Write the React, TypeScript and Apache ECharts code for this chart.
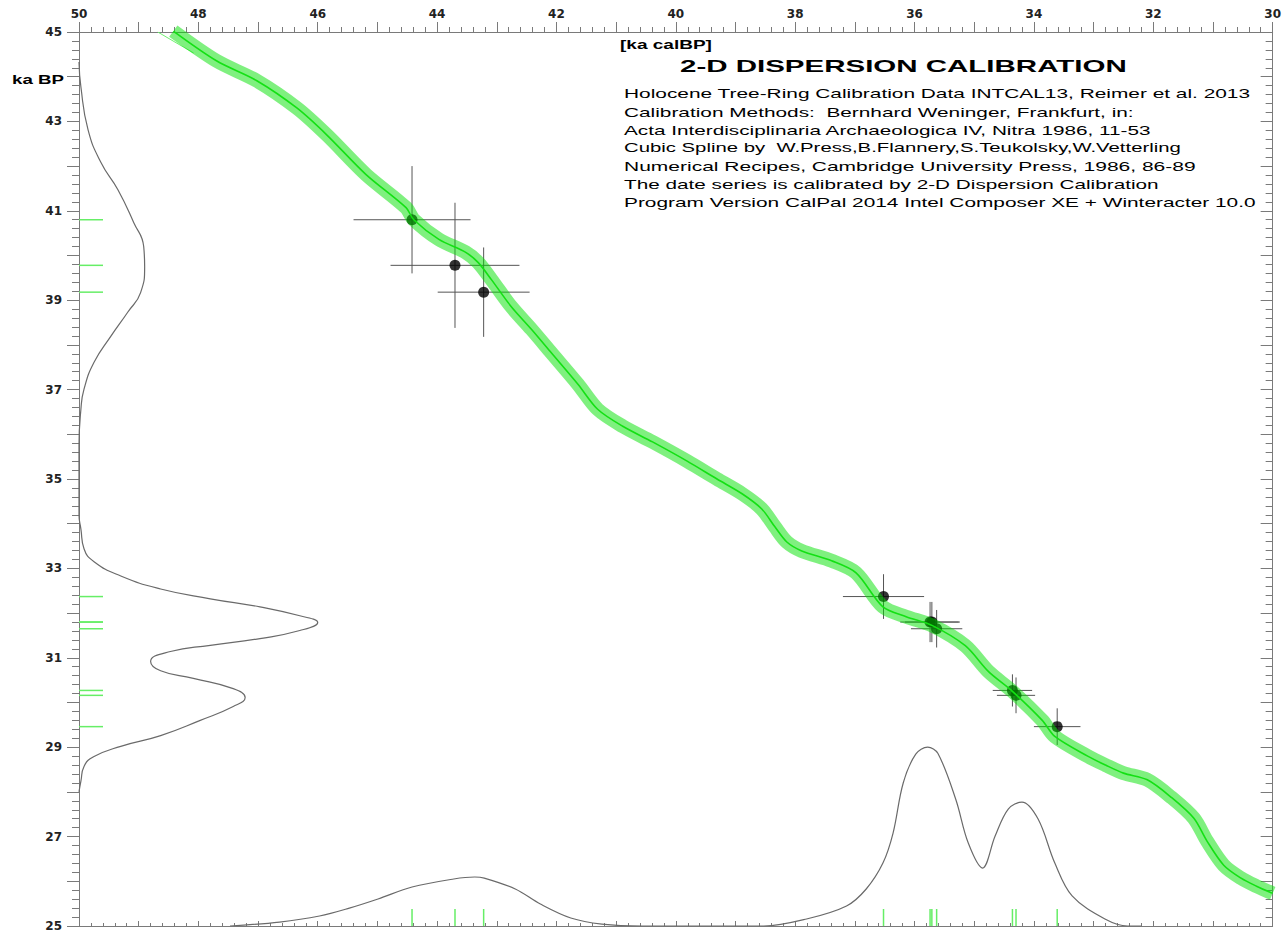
import React, { useEffect, useRef } from "react";
import * as echarts from "echarts";

// ---- calibration curve (cal ka BP -> 14C ka BP) ----
const curveCal = [48.42, 47.69, 47.02, 46.35, 45.85, 45.19, 44.52, 44.39, 43.97, 43.52, 43.31, 43.09, 42.76, 42.42, 42.09, 41.64, 41.31, 40.89, 40.39, 39.81, 39.31, 38.89, 38.56, 38.34, 38.14, 37.89, 37.39, 36.98, 36.53, 36.14, 35.70, 35.15, 34.76, 34.36, 33.86, 33.65, 33.10, 32.8, 32.5, 32.1, 31.7, 31.32, 31.10, 30.82, 30.53, 30.27, 30.0];
const curveC14 = [45.02, 44.35, 43.91, 43.30, 42.70, 41.81, 41.07, 40.80, 40.36, 40.07, 39.84, 39.46, 38.86, 38.35, 37.83, 37.12, 36.56, 36.18, 35.83, 35.40, 35.00, 34.67, 34.33, 33.93, 33.59, 33.39, 33.17, 32.90, 32.14, 31.92, 31.72, 31.27, 30.69, 30.25, 29.60, 29.24, 28.80, 28.60, 28.42, 28.27, 27.88, 27.41, 26.90, 26.36, 26.07, 25.89, 25.73];
const edgeCal = [48.68, 48.08];
const edgeC14 = [45.0, 44.53];

// ---- dated samples ----
const dateCal = [44.42, 43.70, 43.22, 36.52, 35.74, 35.71, 35.63, 34.36, 34.30, 33.61];
const dateCalErr = [0.98, 1.08, 0.77, 0.68, 0.50, 0.45, 0.43, 0.33, 0.32, 0.39];
const dateC14 = [40.80, 39.78, 39.18, 32.37, 31.80, 31.80, 31.65, 30.27, 30.16, 29.46];
const dateC14Err = [1.2, 1.4, 1.0, 0.5, 0.45, 0.45, 0.42, 0.36, 0.40, 0.41];

// ---- 14C probability distribution (left) ----
const leftDistC14 = [44.33, 43.77, 42.81, 42.08, 41.47, 40.74, 40.20, 39.75, 39.17, 38.73, 38.19, 37.61, 37.01, 36.56, 35.74, 34.2, 33.88, 33.44, 33.15, 32.83, 32.54, 32.32, 32.14, 31.94, 31.79, 31.61, 31.43, 31.28, 31.14, 30.92, 30.71, 30.54, 30.31, 30.11, 29.91, 29.60, 29.26, 29.02, 28.79, 28.57, 28.24, 28.0];
const leftDistProb = [0, 0.008, 0.038, 0.092, 0.163, 0.229, 0.271, 0.275, 0.258, 0.204, 0.133, 0.063, 0.021, 0.008, 0, 0, 0.008, 0.021, 0.063, 0.175, 0.342, 0.55, 0.758, 0.925, 1.0, 0.925, 0.758, 0.55, 0.383, 0.30, 0.342, 0.479, 0.646, 0.696, 0.646, 0.508, 0.342, 0.175, 0.063, 0.021, 0.008, 0];

// ---- calendar probability distribution (bottom) ----
const bottomCal = [47.47, 46.64, 45.97, 45.47, 44.99, 44.42, 43.72, 43.37, 43.21, 42.69, 42.27, 41.76, 41.24, 40.56, 38.53, 37.81, 37.14, 36.81, 36.53, 36.36, 36.19, 35.98, 35.78, 35.61, 35.31, 35.10, 34.86, 34.65, 34.43, 34.20, 33.93, 33.65, 33.36, 32.81, 32.43, 32.2];
const bottomProb = [0, 0.022, 0.056, 0.10, 0.151, 0.218, 0.263, 0.274, 0.268, 0.207, 0.123, 0.045, 0.011, 0, 0, 0.039, 0.112, 0.207, 0.352, 0.52, 0.80, 0.961, 1.0, 0.966, 0.709, 0.464, 0.324, 0.503, 0.654, 0.693, 0.598, 0.352, 0.168, 0.039, 0, 0];

// ---- texts ----
const titleText = "2-D DISPERSION CALIBRATION";
const xAxisName = "[ka calBP]";
const yAxisName = "ka BP";
const infoLines = [
  "Holocene Tree-Ring Calibration Data INTCAL13, Reimer et al. 2013",
  "Calibration Methods:  Bernhard Weninger, Frankfurt, in:",
  "Acta Interdisciplinaria Archaeologica IV, Nitra 1986, 11-53",
  "Cubic Spline by  W.Press,B.Flannery,S.Teukolsky,W.Vetterling",
  "Numerical Recipes, Cambridge University Press, 1986, 86-89",
  "The date series is calibrated by 2-D Dispersion Calibration",
  "Program Version CalPal 2014 Intel Composer XE + Winteracter 10.0",
];
const infoRight = [1251, 1134, 1152, 1181, 1196, 1159, 1256];

const AXIS = "#7a7a7a";
const LABEL_FONT = "DejaVu Sans";

let mctx: CanvasRenderingContext2D | null = null;
function fitScale(text: string, font: string, target: number) {
  try {
    if (!mctx) mctx = document.createElement("canvas").getContext("2d");
    if (!mctx) return 1;
    mctx.font = font;
    const w = mctx.measureText(text).width;
    return w > 0 ? target / w : 1;
  } catch (e) {
    return 1;
  }
}

function scaledText(text: string, x: number, y: number, size: number, weight: string, target: number) {
  const family = "Liberation Sans";
  const s = fitScale(text, `${weight} ${size}px "${family}"`, target);
  return {
    type: "text",
    x,
    y,
    scaleX: s,
    z: 20,
    silent: true,
    style: {
      text,
      fontSize: size,
      fontFamily: family,
      fontWeight: weight,
      fill: "#000",
      textVerticalAlign: "middle",
      verticalAlign: "middle",
    },
  };
}

function buildOption() {
  const frameAxisCommon = {
    type: "value",
    interval: 1,
    axisLine: { show: true, onZero: false, lineStyle: { color: AXIS, width: 1 } },
    splitLine: { show: false },
  };
  const labelStyle = { color: "#222", fontWeight: "bold", fontSize: 12, fontFamily: LABEL_FONT };

  const graphics: any[] = [];
  graphics.push(scaledText(xAxisName, 620, 45, 12, "bold", 92));
  graphics.push(scaledText(yAxisName, 12, 80, 12, "bold", 52));
  graphics.push(scaledText(titleText, 680, 67, 16, "bold", 447));
  infoLines.forEach((t, i) => {
    graphics.push(scaledText(t, 624, 94 + i * 18.05, 13, "normal", infoRight[i] - 624));
  });

  return {
    animation: false,
    backgroundColor: "#ffffff",
    grid: { left: 79, right: 5, top: 32, bottom: 4, containLabel: false },
    xAxis: [
      {
        ...frameAxisCommon,
        position: "top",
        inverse: true,
        min: 30,
        max: 50,
        axisTick: { show: true, inside: false, length: 10, lineStyle: { color: AXIS } },
        minorTick: { show: true, splitNumber: 5, length: 5, lineStyle: { color: AXIS } },
        axisLabel: {
          ...labelStyle,
          margin: 12,
          formatter: (v: number) => (Math.round(v) % 2 === 0 ? String(Math.round(v)) : ""),
        },
      },
      { type: "value", min: 0, max: 5, show: false, axisLine: { onZero: false } },
      {
        ...frameAxisCommon,
        position: "bottom",
        inverse: true,
        min: 30,
        max: 50,
        axisTick: { show: true, inside: true, length: 5, lineStyle: { color: AXIS } },
        minorTick: { show: true, splitNumber: 5, length: 3, lineStyle: { color: AXIS } },
        axisLabel: { show: false },
      },
    ],
    yAxis: [
      {
        ...frameAxisCommon,
        position: "left",
        min: 25,
        max: 45,
        axisTick: { show: true, inside: false, length: 12, lineStyle: { color: AXIS } },
        minorTick: { show: true, splitNumber: 5, length: 7, lineStyle: { color: AXIS } },
        axisLabel: {
          ...labelStyle,
          margin: 17,
          formatter: (v: number) => (Math.abs(Math.round(v) % 2) === 1 ? String(Math.round(v)) : ""),
        },
      },
      { type: "value", min: 0, max: 5, show: false, axisLine: { onZero: false } },
      {
        ...frameAxisCommon,
        position: "right",
        min: 25,
        max: 45,
        axisTick: { show: true, inside: true, length: 12, lineStyle: { color: AXIS } },
        minorTick: { show: true, splitNumber: 5, length: 7, lineStyle: { color: AXIS } },
        axisLabel: { show: false },
      },
    ],
    graphic: graphics,
    series: [
      {
        name: "14C distribution",
        type: "line",
        xAxisIndex: 1,
        yAxisIndex: 0,
        data: leftDistProb.map((p, i) => [p, leftDistC14[i]]),
        smooth: 0.5,
        symbol: "none",
        lineStyle: { color: "#6a6a6a", width: 1.2 },
        z: 2,
        silent: true,
      },
      {
        name: "cal distribution",
        type: "line",
        xAxisIndex: 0,
        yAxisIndex: 1,
        data: bottomCal.map((c, i) => [c, bottomProb[i]]),
        smooth: 0.35,
        symbol: "none",
        lineStyle: { color: "#6a6a6a", width: 1.2 },
        z: 2,
        silent: true,
      },
      {
        name: "error crosses",
        type: "custom",
        xAxisIndex: 0,
        yAxisIndex: 0,
        data: dateCal.map((c, i) => [c, dateCalErr[i], dateC14[i], dateC14Err[i]]),
        encode: { x: 0, y: 2 },
        renderItem: (params: any, api: any) => {
          const c = api.value(0);
          const ce = api.value(1);
          const y = api.value(2);
          const ye = api.value(3);
          const l = api.coord([c - ce, y]);
          const r = api.coord([c + ce, y]);
          const t = api.coord([c, y + ye]);
          const b = api.coord([c, y - ye]);
          return {
            type: "group",
            children: [
              { type: "line", shape: { x1: l[0], y1: l[1], x2: r[0], y2: r[1] }, style: { stroke: "#555", lineWidth: 1 } },
              { type: "line", shape: { x1: t[0], y1: t[1], x2: b[0], y2: b[1] }, style: { stroke: "#555", lineWidth: 1 } },
            ],
          };
        },
        z: 2,
        silent: true,
      },
      {
        name: "dates",
        type: "scatter",
        xAxisIndex: 0,
        yAxisIndex: 0,
        data: dateCal.map((c, i) => [c, dateC14[i]]),
        symbolSize: 11,
        itemStyle: { color: "#000" },
        z: 3,
        silent: true,
      },
      {
        name: "14C ticks",
        type: "custom",
        xAxisIndex: 0,
        yAxisIndex: 0,
        data: dateC14.map((v) => [50, v]),
        renderItem: (params: any, api: any) => {
          const p = api.coord([api.value(0), api.value(1)]);
          return { type: "line", shape: { x1: p[0], y1: p[1], x2: p[0] + 24, y2: p[1] }, style: { stroke: "#66ee66", lineWidth: 1.5 } };
        },
        z: 4,
        silent: true,
      },
      {
        name: "cal ticks",
        type: "custom",
        xAxisIndex: 0,
        yAxisIndex: 0,
        data: dateCal.map((c) => [c, 25]),
        renderItem: (params: any, api: any) => {
          const p = api.coord([api.value(0), api.value(1)]);
          return { type: "line", shape: { x1: p[0], y1: p[1], x2: p[0], y2: p[1] - 17 }, style: { stroke: "#66ee66", lineWidth: 1.5 } };
        },
        z: 4,
        silent: true,
      },
      {
        name: "curve edge",
        type: "line",
        xAxisIndex: 0,
        yAxisIndex: 0,
        data: edgeCal.map((c, i) => [c, edgeC14[i]]),
        symbol: "none",
        lineStyle: { color: "#6ef06e", width: 1 },
        z: 5,
        silent: true,
      },
      {
        name: "INTCAL13 band",
        type: "line",
        xAxisIndex: 0,
        yAxisIndex: 0,
        data: curveCal.map((c, i) => [c, curveC14[i]]),
        smooth: 0.3,
        symbol: "none",
        lineStyle: { color: "rgba(0,225,0,0.5)", width: 14, cap: "butt", join: "round" },
        z: 5,
        silent: true,
      },
      {
        name: "INTCAL13",
        type: "line",
        xAxisIndex: 0,
        yAxisIndex: 0,
        data: curveCal.map((c, i) => [c, curveC14[i]]),
        smooth: 0.3,
        symbol: "none",
        lineStyle: { color: "#14e014", width: 1.6 },
        z: 6,
        silent: true,
      },
    ],
  };
}

export default function App() {
  const ref = useRef<HTMLDivElement>(null);
  useEffect(() => {
    if (!ref.current) return;
    const chart = echarts.init(ref.current, null, { renderer: "svg" });
    chart.setOption(buildOption() as any);
    return () => {
      chart.dispose();
    };
  }, []);
  return (
    <div
      ref={ref}
      style={{ position: "fixed", left: 0, top: 0, width: 1284, height: 932, background: "#fff" }}
    />
  );
}
